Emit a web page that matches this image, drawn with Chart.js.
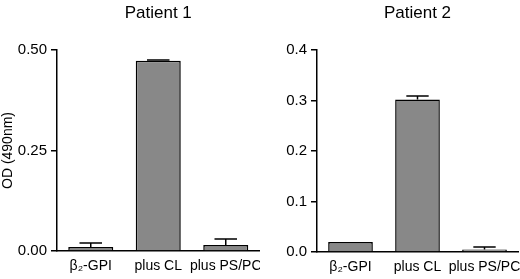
<!DOCTYPE html>
<html>
<head>
<meta charset="utf-8">
<script src="https://cdn.jsdelivr.net/npm/chart.js@4/dist/chart.umd.min.js"></script>
<style>
  body { margin: 0; background: #fff; }
  #wrap { display: flex; width: 520px; height: 279px; }
  canvas { display: block; }
</style>
</head>
<body>
<div id="wrap">
  <canvas id="patient1" width="260" height="279"></canvas>
  <canvas id="patient2" width="260" height="279"></canvas>
</div>
<script>
// categories shared by both panels
var labels = ['\u03B2\u2082-GPI', 'plus CL', 'plus PS/PC'];

// Patient 1 (OD 490nm)
var p1Values = [0.010, 0.473, 0.015];
var p1Errors = [0.010, 0.002, 0.015];
var p1Ticks = [0, 0.25, 0.5];

// Patient 2
var p2Values = [0.020, 0.302, 0.005];
var p2Errors = [0, 0.007, 0.005];
var p2Ticks = [0, 0.1, 0.2, 0.3, 0.4];

var font = "'Liberation Sans', Arial, Helvetica, sans-serif";

// upper error bars, drawn through the y scale
var errorBars = {
    id: 'errorBars',
    afterDatasetsDraw: function(chart, args, opts) {
        var ctx = chart.ctx;
        var y = chart.scales.y;
        var meta = chart.getDatasetMeta(0);
        var vals = chart.data.datasets[0].data;
        ctx.save();
        ctx.strokeStyle = '#000';
        ctx.lineWidth = 1.5;
        meta.data.forEach(function(bar, i) {
            var err = opts.errors[i];
            if (!err) return;
            var y0 = y.getPixelForValue(vals[i]);
            var y1 = y.getPixelForValue(vals[i] + err);
            var half = bar.width / 4;
            ctx.beginPath();
            ctx.moveTo(bar.x, y0);
            ctx.lineTo(bar.x, y1);
            ctx.moveTo(bar.x - half, y1);
            ctx.lineTo(bar.x + half, y1);
            ctx.stroke();
        });
        ctx.restore();
    }
};

function makeChart(id, title, values, errors, ticks, digits, yTitle, rightPad, bottom) {
    var ctx = document.getElementById(id);
    return new Chart(ctx, {
        type: 'bar',
        data: {
            labels: labels,
            datasets: [{
                data: values,
                backgroundColor: '#888888',
                borderColor: '#000',
                borderWidth: 1.5,
                barPercentage: 0.667,
                categoryPercentage: 1
            }]
        },
        options: {
            responsive: false,
            animation: false,
            layout: {
                autoPadding: false,
                padding: { left: 0, right: rightPad, top: 0, bottom: 0 }
            },
            plugins: {
                legend: { display: false },
                tooltip: { enabled: false },
                title: {
                    display: true,
                    text: title,
                    fullSize: false,
                    color: '#000',
                    font: { family: font, size: 17, weight: 'normal' },
                    padding: { top: 3, bottom: 26.6 }
                },
                errorBars: { errors: errors }
            },
            scales: {
                x: {
                    offset: true,
                    grid: { display: false, drawTicks: false },
                    border: { display: true, color: '#000', width: 1.5 },
                    ticks: {
                        color: '#000',
                        padding: 7,
                        maxRotation: 0,
                        autoSkip: false,
                        font: { family: font, size: 14 }
                    },
                    afterFit: function(scale) {
                        scale.height = 279 - bottom;
                        scale.paddingLeft = 0;
                        scale.paddingRight = 0;
                    }
                },
                y: {
                    min: 0,
                    max: ticks[ticks.length - 1],
                    afterBuildTicks: function(scale) {
                        scale.ticks = ticks.map(function(v) { return { value: v }; });
                    },
                    grid: {
                        drawOnChartArea: false,
                        drawTicks: true,
                        tickLength: 6,
                        color: '#000',
                        lineWidth: 1.5
                    },
                    border: { display: true, color: '#000', width: 1.5 },
                    ticks: {
                        color: '#000',
                        padding: 4,
                        font: { family: font, size: 15 },
                        callback: function(v) { return Number(v).toFixed(digits); }
                    },
                    title: {
                        display: yTitle !== '',
                        text: yTitle,
                        color: '#000',
                        padding: { top: 0, bottom: 0 },
                        font: { family: font, size: 14 }
                    },
                    afterFit: function(scale) {
                        scale.width = 57;
                        scale.paddingTop = 0;
                        scale.paddingBottom = 0;
                    }
                }
            }
        },
        plugins: [errorBars]
    });
}

makeChart('patient1', 'Patient 1', p1Values, p1Errors, p1Ticks, 2, 'OD (490nm)', 0.5, 251);
makeChart('patient2', 'Patient 2', p2Values, p2Errors, p2Ticks, 1, '', 2, 252);
</script>
</body>
</html>
